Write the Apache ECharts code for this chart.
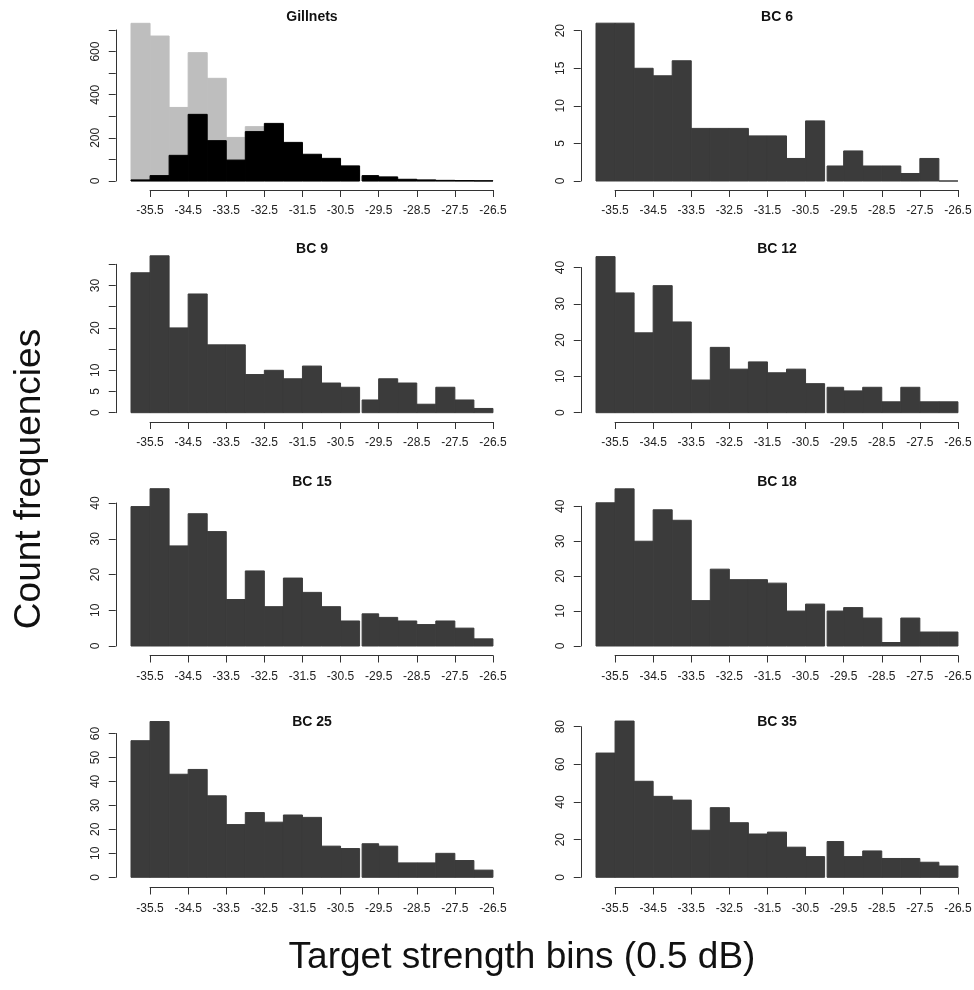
<!DOCTYPE html>
<html>
<head>
<meta charset="utf-8">
<title>Target strength histograms</title>
<script src="https://cdn.jsdelivr.net/npm/echarts@6.0.0/dist/echarts.min.js"></script>
<style>
    html, body { margin: 0; padding: 0; background: #fff; }
    #chart { width: 974px; height: 990px; }
</style>
</head>
<body>
<div id="chart"></div>
<script>
'use strict';

// left edge of every 0.5 dB bin
var binStarts = [-36, -35.5, -35, -34.5, -34, -33.5, -33, -32.5, -32, -31.5,
    -31, -30.5, -30, -29.5, -29, -28.5, -28, -27.5, -27];
var binWidth = 0.5;
var xTickLabels = ['-35.5', '-34.5', '-33.5', '-32.5', '-31.5',
    '-30.5', '-29.5', '-28.5', '-27.5', '-26.5'];

// counts per bin
var gillnetsGrey = [731, 672, 341, 595, 476, 202, 252, 240, 150, 100, 80, 50, 20, 10, 5, 3, 2, 1, 0];
var gillnetsBlack = [5, 25, 119, 309, 187, 97, 229, 267, 179, 124, 105, 70, 25, 19, 8, 5, 3, 2, 1];
var bc6 = [21, 21, 15, 14, 16, 7, 7, 7, 6, 6, 3, 8, 2, 4, 2, 2, 1, 3, 0];
var bc9 = [33, 37, 20, 28, 16, 16, 9, 10, 8, 11, 7, 6, 3, 8, 7, 2, 6, 3, 1];
var bc12 = [43, 33, 22, 35, 25, 9, 18, 12, 14, 11, 12, 8, 7, 6, 7, 3, 7, 3, 3];
var bc15 = [39, 44, 28, 37, 32, 13, 21, 11, 19, 15, 11, 7, 9, 8, 7, 6, 7, 5, 2];
var bc18 = [41, 45, 30, 39, 36, 13, 22, 19, 19, 18, 10, 12, 10, 11, 8, 1, 8, 4, 4];
var bc25 = [57, 65, 43, 45, 34, 22, 27, 23, 26, 25, 13, 12, 14, 13, 6, 6, 10, 7, 3];
var bc35 = [66, 83, 51, 43, 41, 25, 37, 29, 23, 24, 16, 11, 19, 11, 14, 10, 10, 8, 6];

// y tick labels that are printed (R drops the ones that would overlap)
var gillnetsYLabels = [0, 200, 400, 600];
var bc6YLabels = [0, 5, 10, 15, 20];
var bc9YLabels = [0, 5, 10, 20, 30];
var bc12YLabels = [0, 10, 20, 30, 40];
var bc15YLabels = [0, 10, 20, 30, 40];
var bc18YLabels = [0, 10, 20, 30, 40];
var bc25YLabels = [0, 10, 20, 30, 40, 50, 60];
var bc35YLabels = [0, 20, 40, 60, 80];

var DARK = '#3b3b3b';
var FONT = 'Liberation Sans';
var gapAt = -30; // white split line in the bars

// layout (pixels)
var unit = 38.1;                       // px per dB
var colLeft = [131, 596];              // x of -36 dB
var rowBase = [181, 412.7, 646, 877.3]; // y of count 0
var rowAxis = [190, 422, 655.5, 887.5]; // y of the x axis line
var rowTitle = [18, 250.5, 483, 723];

var panels = [
    { title: 'Gillnets', col: 0, row: 0, top: 30, yMax: 700, yStep: 100, yLabels: gillnetsYLabels,
        bars: [{ data: gillnetsGrey, color: '#bebebe' }, { data: gillnetsBlack, color: '#000000' }] },
    { title: 'BC 6', col: 1, row: 0, top: 30.7, yMax: 20, yStep: 5, yLabels: bc6YLabels,
        bars: [{ data: bc6, color: DARK }] },
    { title: 'BC 9', col: 0, row: 1, top: 264.3, yMax: 35, yStep: 5, yLabels: bc9YLabels,
        bars: [{ data: bc9, color: DARK }] },
    { title: 'BC 12', col: 1, row: 1, top: 267.5, yMax: 40, yStep: 10, yLabels: bc12YLabels,
        bars: [{ data: bc12, color: DARK }] },
    { title: 'BC 15', col: 0, row: 2, top: 503, yMax: 40, yStep: 10, yLabels: bc15YLabels,
        bars: [{ data: bc15, color: DARK }] },
    { title: 'BC 18', col: 1, row: 2, top: 506.3, yMax: 40, yStep: 10, yLabels: bc18YLabels,
        bars: [{ data: bc18, color: DARK }] },
    { title: 'BC 25', col: 0, row: 3, top: 733.5, yMax: 60, yStep: 10, yLabels: bc25YLabels,
        bars: [{ data: bc25, color: DARK }] },
    { title: 'BC 35', col: 1, row: 3, top: 726.7, yMax: 80, yStep: 20, yLabels: bc35YLabels,
        bars: [{ data: bc35, color: DARK }] }
];

// histogram bar
function renderBar(params, api) {
    var x0 = api.value(0);
    var x1 = api.value(1);
    var v = api.value(2);
    var tl = api.coord([x0, v]);
    var br = api.coord([x1, 0]);
    var left = tl[0];
    if (x0 === gapAt) {
        left += 2.5;
    }
    var color = api.visual('color');
    return {
        type: 'rect',
        shape: { x: left, y: tl[1], width: br[0] - left, height: br[1] - tl[1] },
        style: { fill: color, stroke: color, lineWidth: 1 }
    };
}

var axisLineStyle = { color: '#333', width: 1 };

var option = {
    animation: false,
    backgroundColor: '#ffffff',
    title: [],
    grid: [],
    xAxis: [],
    yAxis: [],
    series: [],
    graphic: [
        {
            type: 'text',
            x: 30,
            y: 479,
            rotation: Math.PI / 2,
            style: {
                text: 'Count frequencies',
                fontSize: 37,
                fontFamily: FONT,
                fill: '#111',
                align: 'center',
                verticalAlign: 'middle'
            }
        },
        {
            type: 'text',
            x: 522,
            y: 958,
            style: {
                text: 'Target strength bins (0.5 dB)',
                fontSize: 37,
                fontFamily: FONT,
                fill: '#111',
                align: 'center',
                verticalAlign: 'middle'
            }
        }
    ]
};

panels.forEach(function (p, i) {
    var x36 = colLeft[p.col];
    var base = rowBase[p.row];
    var gA = 2 * i;
    var gB = 2 * i + 1;

    option.title.push({
        text: p.title,
        left: x36 + 4.75 * unit,
        top: rowTitle[p.row] - 8,
        textAlign: 'center',
        padding: 0,
        textStyle: { fontSize: 14, fontWeight: 'bold', fontFamily: FONT, color: '#111' }
    });

    // bars + y axis
    option.grid.push({
        left: x36 - 0.4 * unit,
        width: 9.9 * unit,
        top: p.top,
        height: base - p.top,
        outerBoundsMode: 'none'
    });
    // x axis only (R draws it from first to last tick, below the bars)
    option.grid.push({
        left: x36 + 0.5 * unit,
        width: 9 * unit,
        top: rowAxis[p.row] - 10,
        height: 10,
        outerBoundsMode: 'none'
    });

    option.xAxis.push({
        type: 'value', gridIndex: gA, min: -36.4, max: -26.5, show: false
    });
    option.xAxis.push({
        type: 'value',
        gridIndex: gB,
        min: 0,
        max: 9,
        interval: 1,
        position: 'bottom',
        axisLine: { show: true, lineStyle: axisLineStyle },
        axisTick: { show: true, length: 7, lineStyle: axisLineStyle },
        splitLine: { show: false },
        axisLabel: {
            margin: 15,
            fontSize: 12,
            fontFamily: FONT,
            color: '#222',
            formatter: function (v) { return xTickLabels[Math.round(v)] || ''; }
        }
    });

    option.yAxis.push({
        type: 'value',
        gridIndex: gA,
        min: 0,
        max: p.yMax,
        interval: p.yStep,
        axisLine: { show: true, lineStyle: axisLineStyle },
        axisTick: { show: true, length: 7, lineStyle: axisLineStyle },
        splitLine: { show: false },
        axisLabel: {
            rotate: 90,
            margin: 14,
            fontSize: 12,
            fontFamily: FONT,
            color: '#222',
            formatter: function (v) { return p.yLabels.indexOf(v) >= 0 ? String(v) : ''; }
        }
    });
    option.yAxis.push({ type: 'value', gridIndex: gB, show: false });

    p.bars.forEach(function (b) {
        option.series.push({
            type: 'custom',
            xAxisIndex: gA,
            yAxisIndex: gA,
            renderItem: renderBar,
            itemStyle: { color: b.color },
            encode: { x: [0, 1], y: 2 },
            clip: false,
            data: binStarts.map(function (s, k) {
                return [s, s + binWidth, b.data[k]];
            })
        });
    });
});

var chart = echarts.init(document.getElementById('chart'));
chart.setOption(option);
</script>
</body>
</html>
